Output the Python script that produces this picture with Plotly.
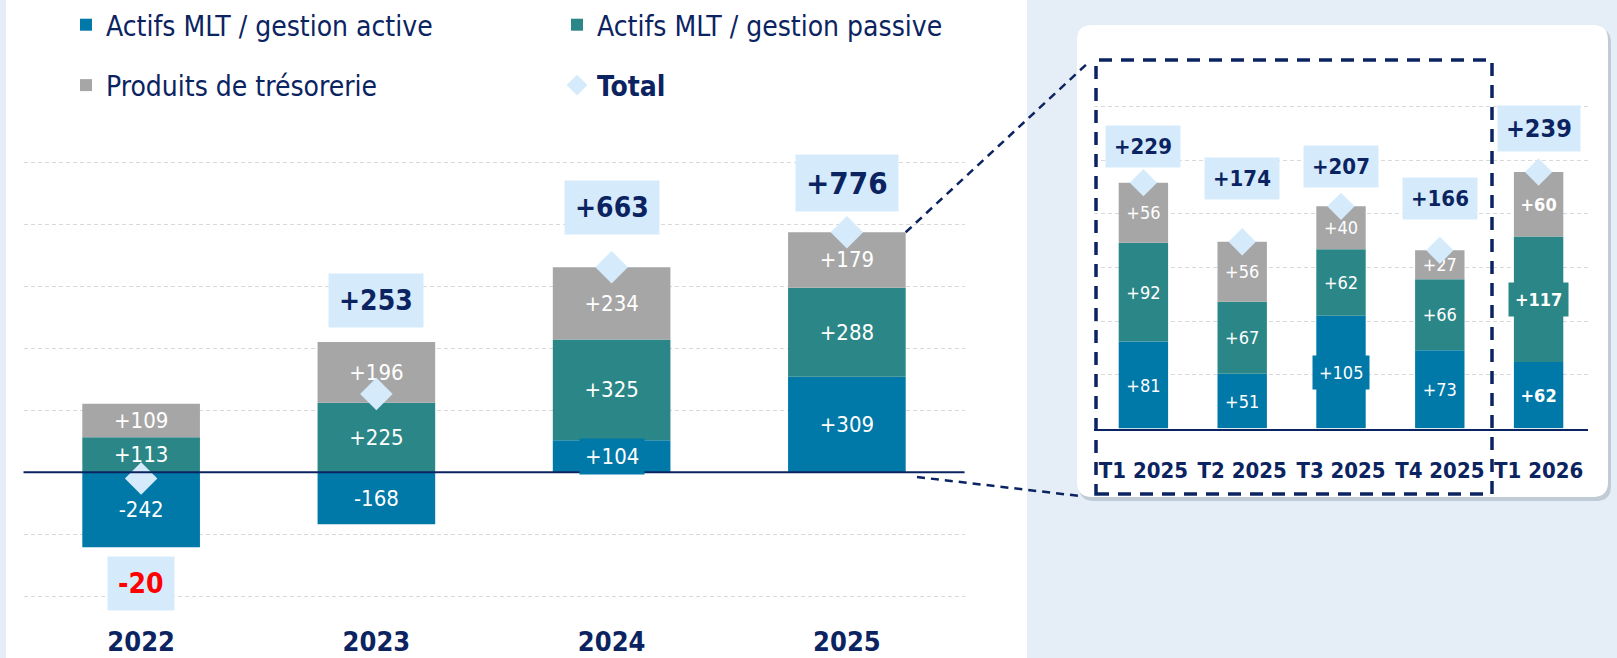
import plotly.graph_objects as go

# ---------------- data ----------------
years = ["2022", "2023", "2024", "2025"]
active = [-242, -168, 104, 309]
passive = [113, 225, 325, 288]
treso = [109, 196, 234, 179]
total = [-20, 253, 663, 776]

quarters = ["T1 2025", "T2 2025", "T3 2025", "T4 2025", "T1 2026"]
q_active = [81, 51, 105, 73, 62]
q_passive = [92, 67, 62, 66, 117]
q_treso = [56, 56, 40, 27, 60]
q_total = [229, 174, 207, 166, 239]

series_names = ["Actifs MLT / gestion active", "Actifs MLT / gestion passive", "Produits de trésorerie"]
total_name = "Total"

# ---------------- style ----------------
W, H = 1617, 658
NAVY = "#0b2461"
BLUE = "#0078a8"
TEAL = "#2b8787"
GREY = "#a6a6a6"
DIAM = "#d5ebfb"
PANEL = "#e5edf7"
GRID = "#d9d9d9"
RED = "#ff0000"
FONT = "DejaVu Sans Condensed, Liberation Sans Narrow, sans-serif"

colors = [BLUE, TEAL, GREY]
legends = ["legend", "legend2", "legend"]
ranks = [1, 1, 2]

left_label_off = [36, 42, 60, 49]
left_label_size = [28, 28, 28, 31]
inset_label_off = [36, 63, 40, 52, 43]
inset_label_size = [22, 22, 22, 22, 25]
inset_bold = [False, False, False, False, True]
# segment labels drawn on a box of the segment colour: (series index, category index)
left_boxed = [(0, 2)]
inset_boxed = [(0, 2), (1, 4)]

SEG_L = 22
SEG_I = 18


def pxx(x):
    return x / W


def pxy(y):
    return 1 - y / H


# left axes geometry (pixels)
L_ZERO, L_K = 472.3, 0.3093
L_RANGE = [-412, 1012]
# inset geometry
I_ZERO, I_K = 428.5, 1.0733
I_RANGE = [0, 303]


def fmt(v, bold=False):
    s = f"{v:+d}"
    return f"<b>{s}</b>" if bold else s


fig = go.Figure()
annotations = []

left_vals = [active, passive, treso]
inset_vals = [q_active, q_passive, q_treso]


def seg_mid(comps, k, i):
    v = comps[k][i]
    base = sum(comps[j][i] for j in range(k) if (comps[j][i] > 0) == (v > 0))
    return base + v / 2


for k in range(3):
    lt = [fmt(v) for v in left_vals[k]]
    it = [fmt(v, b) for v, b in zip(inset_vals[k], inset_bold)]
    for (kk, i) in left_boxed:
        if kk == k:
            annotations.append(dict(x=i, y=seg_mid(left_vals, k, i), xref="x", yref="y", showarrow=False,
                                    text=lt[i], font=dict(family=FONT, size=SEG_L, color="white"),
                                    bgcolor=colors[k], borderpad=5))
            lt[i] = ""
    for (kk, i) in inset_boxed:
        if kk == k:
            annotations.append(dict(x=i, y=seg_mid(inset_vals, k, i), xref="x2", yref="y2", showarrow=False,
                                    text=it[i], font=dict(family=FONT, size=SEG_I, color="white"),
                                    bgcolor=colors[k], borderpad=6))
            it[i] = ""
    fig.add_trace(go.Bar(
        x=years, y=left_vals[k], name=series_names[k],
        marker=dict(color=colors[k], line=dict(width=0)), width=0.5,
        text=lt, textposition="inside",
        insidetextanchor="middle", textangle=0, constraintext="none",
        textfont=dict(family=FONT, size=SEG_L, color="white"),
        legend=legends[k], legendgroup=series_names[k], legendrank=ranks[k],
        xaxis="x", yaxis="y", hoverinfo="x+y+name",
    ))
    fig.add_trace(go.Bar(
        x=quarters, y=inset_vals[k], name=series_names[k], showlegend=False,
        marker=dict(color=colors[k], line=dict(width=0)), width=0.5,
        text=it, textposition="inside",
        insidetextanchor="middle", textangle=0, constraintext="none",
        textfont=dict(family=FONT, size=SEG_I, color="white"),
        legendgroup=series_names[k],
        xaxis="x2", yaxis="y2", hoverinfo="x+y+name",
    ))

fig.add_trace(go.Scatter(
    x=years, y=total, mode="markers", name=f"<b>{total_name}</b>",
    marker=dict(symbol="diamond", size=25, color=DIAM, line=dict(width=0)),
    legend="legend2", legendgroup="total", legendrank=2, cliponaxis=False,
    xaxis="x", yaxis="y",
))
fig.add_trace(go.Scatter(
    x=quarters, y=q_total, mode="markers", name=total_name, showlegend=False,
    marker=dict(symbol="diamond", size=21, color=DIAM, line=dict(width=0)),
    legendgroup="total", cliponaxis=False, xaxis="x2", yaxis="y2",
))


def total_labels(cats, comps, tots, offs, sizes, xref, yref, pad):
    for i, c in enumerate(cats):
        vals = [comp[i] for comp in comps]
        pos = sum(v for v in vals if v > 0)
        neg = sum(v for v in vals if v < 0)
        t = tots[i]
        if t >= 0:
            y, ys, col = pos, offs[i], NAVY
        else:
            y, ys, col = neg, -offs[i], RED
        annotations.append(dict(
            x=i, y=y, xref=xref, yref=yref, yshift=ys, showarrow=False,
            text=f"<b>{t:+d}</b>", font=dict(family=FONT, size=sizes[i], color=col),
            bgcolor=DIAM, borderpad=pad, xanchor="center", yanchor="middle",
        ))


total_labels(years, left_vals, total, left_label_off, left_label_size, "x", "y", 10)
total_labels(quarters, inset_vals, q_total, inset_label_off, inset_label_size, "x2", "y2", 8)


def rrect(x0, y0, x1, y1, r):
    pts = [
        ("M", [(x0 + r, y0)]), ("L", [(x1 - r, y0)]), ("Q", [(x1, y0), (x1, y0 + r)]),
        ("L", [(x1, y1 - r)]), ("Q", [(x1, y1), (x1 - r, y1)]), ("L", [(x0 + r, y1)]),
        ("Q", [(x0, y1), (x0, y1 - r)]), ("L", [(x0, y0 + r)]), ("Q", [(x0, y0), (x0 + r, y0)]),
    ]
    s = ""
    for cmd, p in pts:
        s += cmd + " " + " ".join(f"{pxx(a):.5f},{pxy(b):.5f}" for a, b in p) + " "
    return s + "Z"


# pixel position of 2025 bar top-right corner from the left axes
x_left_dom = (23.5, 964.5)
step = (x_left_dom[1] - x_left_dom[0]) / len(years)
bar_tr_x = x_left_dom[0] + step * (len(years) - 1 + 0.5) + step * 0.25
bar_tr_y = L_ZERO - L_K * sum(v for v in (active[-1], passive[-1], treso[-1]) if v > 0)

shapes = [
    dict(type="rect", xref="paper", yref="paper", x0=pxx(6), x1=pxx(1027), y0=0, y1=1,
         fillcolor="white", line=dict(width=0), layer="below"),
    dict(type="path", xref="paper", yref="paper", path=rrect(1079, 28, 1611, 501, 15),
         fillcolor="rgba(70,80,100,0.22)", line=dict(width=0), layer="below"),
    dict(type="path", xref="paper", yref="paper", path=rrect(1077, 25, 1608, 497, 15),
         fillcolor="white", line=dict(width=0), layer="below"),
    dict(type="rect", xref="paper", yref="paper", x0=pxx(1096), x1=pxx(1492), y0=pxy(494), y1=pxy(60),
         fillcolor="rgba(0,0,0,0)", line=dict(color=NAVY, width=3.5, dash="13px,9px"), layer="above"),
    dict(type="line", xref="paper", yref="paper", x0=pxx(bar_tr_x), y0=pxy(bar_tr_y), x1=pxx(1090), y1=pxy(61),
         line=dict(color=NAVY, width=2.5, dash="8px,6px"), layer="above"),
    dict(type="line", xref="paper", yref="paper", x0=pxx(917), y0=pxy(477), x1=pxx(1080), y1=pxy(496),
         line=dict(color=NAVY, width=2.5, dash="8px,6px"), layer="above"),
    dict(type="line", xref="x domain", yref="y", x0=0, x1=1, y0=0, y1=0,
         line=dict(color=NAVY, width=2), layer="above"),
]

left_ydom = [pxy(L_ZERO - L_K * L_RANGE[0]), pxy(L_ZERO - L_K * L_RANGE[1])]
inset_ydom = [pxy(I_ZERO - I_K * I_RANGE[0]), pxy(I_ZERO - I_K * I_RANGE[1])]

tickfont_l = dict(family=FONT, size=27, color=NAVY, weight="bold")
tickfont_i = dict(family=FONT, size=22, color=NAVY, weight="bold")
legfont = dict(family=FONT, size=28, color=NAVY)

# left x labels sit at a fixed pixel height; adjust standoff for the extended range
left_bottom_px = L_ZERO - L_K * L_RANGE[0]
left_standoff = 26 - (left_bottom_px - (L_ZERO + L_K * 402))

fig.update_layout(
    width=W, height=H, autosize=False,
    margin=dict(l=0, r=0, t=0, b=0),
    paper_bgcolor=PANEL, plot_bgcolor="rgba(0,0,0,0)",
    barmode="relative",
    font=dict(family=FONT, color=NAVY),
    xaxis=dict(domain=[pxx(x_left_dom[0]), pxx(x_left_dom[1])], range=[-0.5, 3.5], type="category",
               showgrid=False, zeroline=False, showline=False, ticks="", tickfont=tickfont_l,
               tickangle=0, ticklabelstandoff=round(left_standoff), anchor="y", fixedrange=True,
               automargin=False),
    yaxis=dict(domain=left_ydom, range=L_RANGE, tick0=0, dtick=200, showgrid=True, gridcolor=GRID,
               griddash="4px,3px", gridwidth=1, zeroline=False, showticklabels=False, anchor="x",
               fixedrange=True, automargin=False),
    xaxis2=dict(domain=[pxx(1094), pxx(1588)], range=[-0.5, 4.5], type="category",
                showgrid=False, zeroline=False, showline=True, linecolor=NAVY, linewidth=2, ticks="",
                tickfont=tickfont_i, tickangle=0, ticklabelstandoff=21, anchor="y2", fixedrange=True,
                automargin=False),
    yaxis2=dict(domain=inset_ydom, range=I_RANGE, tick0=0, dtick=50, showgrid=True, gridcolor=GRID,
                griddash="4px,3px", gridwidth=1, zeroline=False, showticklabels=False, anchor="x2",
                fixedrange=True, automargin=False),
    legend=dict(x=pxx(66), y=1, xanchor="left", yanchor="top",
                orientation="v", font=legfont, bgcolor="rgba(0,0,0,0)",
                tracegroupgap=21, traceorder="grouped"),
    legend2=dict(x=pxx(557), y=1, xanchor="left", yanchor="top",
                 orientation="v", font=legfont, bgcolor="rgba(0,0,0,0)",
                 tracegroupgap=21, traceorder="grouped"),
    annotations=annotations,
    shapes=shapes,
    showlegend=True,
)

fig.write_html(
    "out.html",
    config={"responsive": False, "displayModeBar": False},
    post_script="document.body.style.margin='0';document.body.style.overflow='hidden';",
)
